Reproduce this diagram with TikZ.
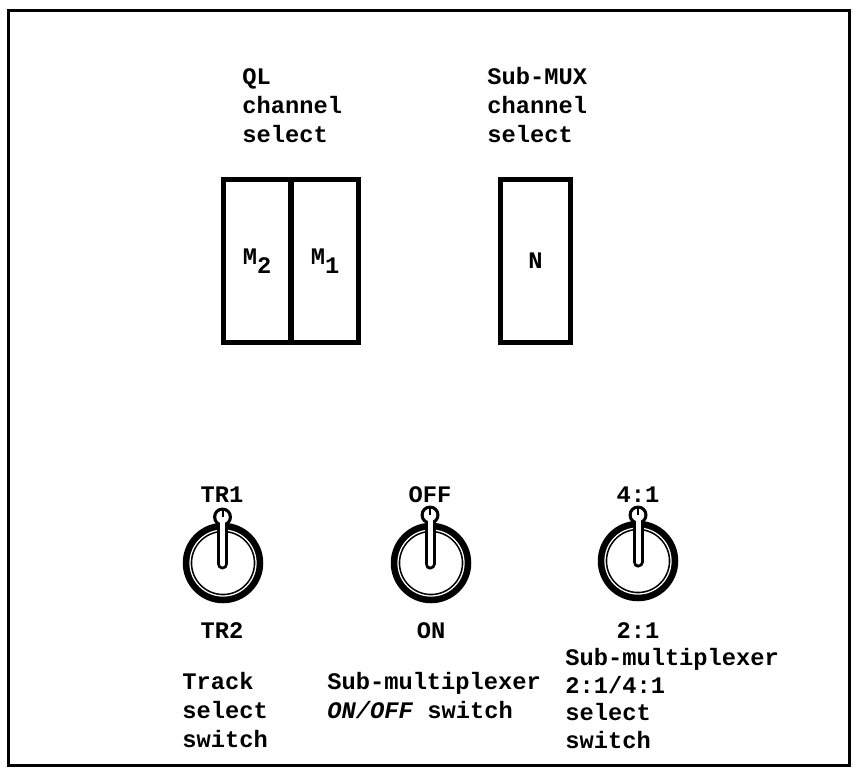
\documentclass[tikz,border=0pt]{standalone}
\usepackage{fontspec}
\setmainfont{Liberation Mono}
\usetikzlibrary{positioning}
\tikzset{
  frame/.style={draw=black, line width=0.6mm},
  panel/.style={draw=black, line width=1mm, inner sep=0pt, minimum height=32.6mm, font=\bfseries\fontsize{13.5pt}{16pt}\selectfont},
  ring/.style={circle, draw=black, line width=1.9mm, inner sep=0pt, minimum size=14.2mm},
  ringline/.style={draw=white, line width=0.25mm},
  knob/.style={circle, fill=black, inner sep=0pt, minimum size=3.8mm},
  hole/.style={circle, fill=white, inner sep=0pt, minimum size=2.5mm},
  lever/.style={line width=2.2mm, line cap=round},
  leverin/.style={draw=white, line width=1mm, line cap=round},
  tick/.style={line width=0.4mm},
  setting/.style={inner sep=0pt, font=\bfseries\fontsize{13.5pt}{16pt}\selectfont},
  note/.style={align=left, anchor=base west, inner sep=0pt, font=\bfseries\fontsize{13.5pt}{16.4pt}\selectfont}
}
\begin{document}
\begin{tikzpicture}[x=0.2mm, y=-0.2mm]
\useasboundingbox (0,0) rectangle (853,773);
\draw[frame] (8,10) rectangle (849,765);

% channel select thumbwheels (base = last line)
\node[note] (ql) at (242,142) {QL\\channel\\select};
\node[note] (mux) at (487,142) {Sub-MUX\\channel\\select};
\node[panel, minimum width=13.5mm] (m2) at (257,261) {M\raisebox{-0.38em}{2}};
\node[panel, minimum width=13.5mm] (m1) at (325,261) {M\raisebox{-0.38em}{1}};
\node[panel, minimum width=14mm] (n) at (535.5,260.5) {N};

% toggle switches
\node[ring] (s1) at (223,563) {};
\node[ring] (s2) at (431,563) {};
\node[ring] (s3) at (638,561) {};
\draw[ringline] (s1.center) circle[radius=6.6mm];
\draw[ringline] (s2.center) circle[radius=6.6mm];
\draw[ringline] (s3.center) circle[radius=6.6mm];
\node[knob] (k1) at (222.5,517) {};
\node[knob] (k2) at (430,515) {};
\node[knob] (k3) at (638,515) {};
\coordinate (e1) at (222.5,564);
\coordinate (e2) at (430,564);
\coordinate (e3) at (638,562);
\draw[lever] (k1.center) -- (e1);
\draw[lever] (k2.center) -- (e2);
\draw[lever] (k3.center) -- (e3);
\draw[leverin] (k1.center) -- (e1);
\draw[leverin] (k2.center) -- (e2);
\draw[leverin] (k3.center) -- (e3);
\node[hole] (h1) at (k1.center) {};
\node[hole] (h2) at (k2.center) {};
\node[hole] (h3) at (k3.center) {};
\draw[tick] (h1.center) -- (h1.north);
\draw[tick] (h2.center) -- (h2.north);
\draw[tick] (h3.center) -- (h3.north);

\node[setting] (tr1) at (222,495) {TR1};
\node[setting] (off) at (430,495) {OFF};
\node[setting] (r41) at (638,495) {4:1};
\node[setting] (tr2) at (222,631) {TR2};
\node[setting] (on) at (431,631) {ON};
\node[setting] (r21) at (638,631) {2:1};

\node[note] (track) at (182,747) {Track\\select\\switch};
\node[note] (onoff) at (327,718) {Sub-multiplexer\\\textit{ON/OFF} switch};
\node[note, font=\bfseries\fontsize{13.5pt}{15.6pt}\selectfont] (ratio) at (565,748) {Sub-multiplexer\\2:1/4:1\\select\\switch};
\end{tikzpicture}
\end{document}
